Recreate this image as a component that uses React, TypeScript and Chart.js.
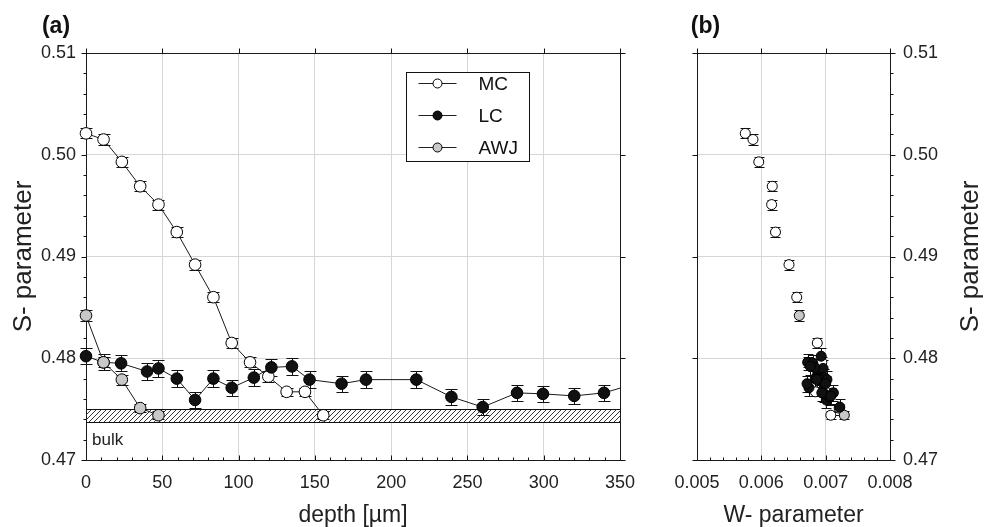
import React, { useEffect, useRef } from "react";
import { Chart, registerables } from "chart.js";

Chart.register(...registerables);

const FONT = "'Liberation Sans', Arial, Helvetica, sans-serif";

const SERIES_NAMES = ["MC", "LC", "AWJ"];

// ---- panel (a): S-parameter vs depth ----
const DEPTH_MC = [0, 11.5, 23.5, 35.5, 47.5, 59.5, 71.5, 83.5, 95.5, 107.5, 119.5, 131.5, 143.5, 155.5];
const S_MC = [0.5021, 0.5015, 0.4993, 0.4969, 0.4951, 0.4924, 0.4892, 0.486, 0.4815, 0.4796, 0.4782, 0.4767, 0.4767, 0.4744];
const S_ERR_MC = [0.0005, 0.0005, 0.0005, 0.0005, 0.0005, 0.0005, 0.0005, 0.0005, 0.0005, 0.0005, 0.0005, 0.0004, 0.0004, 0.0004];

const DEPTH_LC = [0, 11.5, 23, 40, 47.5, 59.5, 71.5, 83.5, 95.5, 110, 121.5, 135, 146.5, 167.5, 183.5, 216.5, 239.5, 260, 282.5, 299.5, 320, 339.5, 360];
const S_LC = [0.4802, 0.4796, 0.4795, 0.4787, 0.479, 0.478, 0.4759, 0.478, 0.4771, 0.4781, 0.4791, 0.4792, 0.4779, 0.4775, 0.4779, 0.4779, 0.4762, 0.4752, 0.4766, 0.4765, 0.4763, 0.4766, 0.4775];
const S_ERR_LC = [0.0008, 0.0008, 0.0008, 0.0008, 0.0008, 0.0008, 0.0008, 0.0008, 0.0008, 0.0008, 0.0008, 0.0008, 0.0008, 0.0008, 0.0008, 0.0008, 0.0008, 0.0008, 0.0008, 0.0008, 0.0008, 0.0008, 0.0008];

const DEPTH_AWJ = [0, 11.5, 23.5, 35.5, 47.5];
const S_AWJ = [0.4842, 0.4796, 0.4779, 0.4751, 0.4744];
const S_ERR_AWJ = [0.0005, 0.0005, 0.0005, 0.0004, 0.0004];

// ---- panel (b): S-parameter vs W-parameter ----
const W_MC = [0.00575, 0.00587, 0.00596, 0.00617, 0.00616, 0.00622, 0.00643, 0.00655, 0.00687, 0.00694, 0.00686, 0.00684, 0.007, 0.00708];
const W_LC = [0.00693, 0.00672, 0.0068, 0.00688, 0.00696, 0.00684, 0.00701, 0.0069, 0.00674, 0.00698, 0.00683, 0.00676, 0.00692, 0.00671, 0.00702, 0.00686, 0.00706, 0.00722, 0.00712, 0.00698, 0.00708, 0.00694, 0.007];
const W_AWJ = [0.00659, 0.00673, 0.00691, 0.00721, 0.00729];

// ---- axes ----
const DEPTH_TICKS = [0, 50, 100, 150, 200, 250, 300, 350];
const S_TICKS = [0.47, 0.48, 0.49, 0.5, 0.51];
const W_TICKS = [0.005, 0.006, 0.007, 0.008];
const BULK_BAND = [0.4737, 0.475];
const BULK_LABEL = "bulk";

const FILLS = ["#ffffff", "#111111", "#c8c8c8"];

const pts = (xs: number[], ys: number[]) => xs.map((x, i) => ({ x, y: ys[i] }));

type SideCfg = { axis: "x" | "y"; side: "left" | "right" | "top" | "bottom"; majors: number[]; minorStep?: number; out: boolean };

function drawTicks(chart: any, sides: SideCfg[]) {
  const { ctx, chartArea: a } = chart;
  ctx.save();
  ctx.strokeStyle = "#111";
  ctx.lineWidth = 1;
  for (const s of sides) {
    const scale = s.axis === "x" ? chart.scales.x : chart.scales.y;
    const draw = (v: number, len: number) => {
      const p = Math.round(scale.getPixelForValue(v)) + 0.5;
      const dir = s.out ? -1 : 1;
      ctx.beginPath();
      if (s.side === "left") {
        const b = Math.round(a.left) + 0.5;
        ctx.moveTo(b, p);
        ctx.lineTo(b + dir * len, p);
      } else if (s.side === "right") {
        const b = Math.round(a.right) + 0.5;
        ctx.moveTo(b, p);
        ctx.lineTo(b - dir * len, p);
      } else if (s.side === "top") {
        const b = Math.round(a.top) + 0.5;
        ctx.moveTo(p, b);
        ctx.lineTo(p, b - dir * len);
      } else {
        const b = Math.round(a.bottom) + 0.5;
        ctx.moveTo(p, b);
        ctx.lineTo(p, b + dir * len);
      }
      ctx.stroke();
    };
    s.majors.forEach((v) => draw(v, 5));
    if (s.minorStep) {
      const min = scale.min, max = scale.max;
      const n = Math.round((max - min) / s.minorStep);
      for (let i = 0; i <= n; i++) {
        const v = min + i * s.minorStep;
        if (s.majors.some((m) => Math.abs(m - v) < s.minorStep! / 10)) continue;
        draw(v, 3);
      }
    }
  }
  ctx.strokeStyle = "#1a1a1a";
  const l = Math.round(a.left) + 0.5, r = Math.round(a.right) + 0.5;
  const t = Math.round(a.top) + 0.5, b = Math.round(a.bottom) + 0.5;
  ctx.strokeRect(l, t, r - l, b - t);
  ctx.restore();
}

function drawErrors(chart: any, errs: number[][], xs: number[][], ys: number[][], cap: number) {
  const { ctx, chartArea: a } = chart;
  const sx = chart.scales.x, sy = chart.scales.y;
  ctx.save();
  ctx.strokeStyle = "#111";
  ctx.lineWidth = 1;
  for (let k = 0; k < errs.length; k++) {
    for (let i = 0; i < xs[k].length; i++) {
      if (xs[k][i] < sx.min || xs[k][i] > sx.max) continue;
      const x = Math.round(sx.getPixelForValue(xs[k][i])) + 0.5;
      if (x > a.right) continue;
      const y1 = Math.round(sy.getPixelForValue(ys[k][i] - errs[k][i])) + 0.5;
      const y2 = Math.round(sy.getPixelForValue(ys[k][i] + errs[k][i])) + 0.5;
      ctx.beginPath();
      ctx.moveTo(x, y1);
      ctx.lineTo(x, y2);
      ctx.moveTo(x - cap, y1);
      ctx.lineTo(x + cap, y1);
      ctx.moveTo(x - cap, y2);
      ctx.lineTo(x + cap, y2);
      ctx.stroke();
    }
  }
  ctx.restore();
}

const tickFont = { family: FONT, size: 18 };

export default function App() {
  const refA = useRef<HTMLCanvasElement>(null);
  const refB = useRef<HTMLCanvasElement>(null);

  useEffect(() => {
    const common = (r: number) => ({
      borderColor: "#1a1a1a",
      borderWidth: 1,
      pointRadius: r,
      pointHoverRadius: r,
      pointBorderColor: "#000",
      pointBorderWidth: 1,
    });

    const pluginA = {
      id: "panelA",
      beforeDatasetsDraw(chart: any) {
        const { ctx, chartArea: a } = chart;
        const sy = chart.scales.y, sx = chart.scales.x;
        const yt = Math.round(sy.getPixelForValue(BULK_BAND[1])) + 0.5;
        const yb = Math.round(sy.getPixelForValue(BULK_BAND[0])) + 0.5;
        const xl = Math.round(sx.getPixelForValue(DEPTH_TICKS[0])) + 0.5;
        const xr = Math.round(sx.getPixelForValue(DEPTH_TICKS[DEPTH_TICKS.length - 1])) + 0.5;
        ctx.save();
        ctx.fillStyle = "#ffffff";
        ctx.fillRect(xl, yt, xr - xl, yb - yt);
        ctx.beginPath();
        ctx.rect(xl, yt, xr - xl, yb - yt);
        ctx.clip();
        ctx.strokeStyle = "#222";
        ctx.lineWidth = 0.9;
        const h = yb - yt;
        ctx.beginPath();
        for (let x = xl - h; x < xr + h; x += 5) {
          ctx.moveTo(x, yb);
          ctx.lineTo(x + h, yt);
        }
        ctx.stroke();
        ctx.restore();
        ctx.save();
        ctx.strokeStyle = "#111";
        ctx.lineWidth = 1;
        ctx.strokeRect(xl, yt, xr - xl, yb - yt);
        ctx.fillStyle = "#222";
        ctx.font = `17px ${FONT}`;
        ctx.textAlign = "left";
        ctx.textBaseline = "alphabetic";
        ctx.fillText(BULK_LABEL, a.left + 6, yb + 22);
        ctx.restore();

        drawTicks(chart, [
          { axis: "y", side: "left", majors: S_TICKS, minorStep: 0.002, out: true },
          { axis: "y", side: "right", majors: S_TICKS, out: true },
          { axis: "x", side: "bottom", majors: DEPTH_TICKS, minorStep: 10, out: true },
          { axis: "x", side: "top", majors: DEPTH_TICKS, out: false },
        ]);
        drawErrors(chart, [S_ERR_MC, S_ERR_LC, S_ERR_AWJ], [DEPTH_MC, DEPTH_LC, DEPTH_AWJ], [S_MC, S_LC, S_AWJ], 6);
      },
      afterDraw(chart: any) {
        const { ctx, chartArea: a } = chart;
        ctx.save();
        ctx.fillStyle = "#111";
        ctx.font = `bold 23px ${FONT}`;
        ctx.textAlign = "center";
        ctx.textBaseline = "middle";
        ctx.fillText("(a)", 56, 27);
        const bx = Math.round(a.left + 320) + 0.5, by = Math.round(a.top + 19) + 0.5;
        const bw = 123, bh = 89;
        ctx.fillStyle = "#fff";
        ctx.fillRect(bx, by, bw, bh);
        ctx.strokeStyle = "#111";
        ctx.lineWidth = 1;
        ctx.strokeRect(bx, by, bw, bh);
        SERIES_NAMES.forEach((name, i) => {
          const y = by + 11 + i * 32;
          ctx.strokeStyle = "#222";
          ctx.beginPath();
          ctx.moveTo(bx + 12, y);
          ctx.lineTo(bx + 50, y);
          ctx.stroke();
          ctx.beginPath();
          ctx.arc(bx + 31, y, 4.5, 0, Math.PI * 2);
          ctx.fillStyle = FILLS[i];
          ctx.fill();
          ctx.strokeStyle = "#000";
          ctx.stroke();
          ctx.fillStyle = "#111";
          ctx.font = `19px ${FONT}`;
          ctx.textAlign = "left";
          ctx.textBaseline = "middle";
          ctx.fillText(name, bx + 72, y + 1);
        });
        ctx.restore();
      },
    };

    const clipA = { left: 12, top: 12, right: 0, bottom: 12 };
    const chartA = new Chart(refA.current!, {
      type: "scatter",
      data: {
        datasets: [
          { label: SERIES_NAMES[0], data: pts(DEPTH_MC, S_MC), showLine: true, ...common(5.8), pointBackgroundColor: FILLS[0], order: 3, clip: clipA } as any,
          { label: SERIES_NAMES[1], data: pts(DEPTH_LC, S_LC), showLine: true, ...common(5.8), pointBackgroundColor: FILLS[1], order: 2, clip: clipA } as any,
          { label: SERIES_NAMES[2], data: pts(DEPTH_AWJ, S_AWJ), showLine: true, ...common(5.8), pointBackgroundColor: FILLS[2], order: 1, clip: clipA } as any,
        ],
      },
      options: {
        animation: false,
        responsive: false,
        events: [],
        layout: { padding: { top: 53, right: 40, left: 0, bottom: 0 } },
        plugins: { legend: { display: false }, tooltip: { enabled: false } },
        scales: {
          x: {
            type: "linear",
            position: "bottom",
            min: 0,
            max: 350,
            afterBuildTicks: (s: any) => { s.ticks = DEPTH_TICKS.map((value) => ({ value })); },
            afterFit: (s: any) => { s.height = 67; },
            grid: { color: "#d6d6d6", lineWidth: 1, drawTicks: false },
            border: { display: false },
            ticks: { font: tickFont, color: "#222", padding: 12, autoSkip: false, maxRotation: 0, callback: (v: any) => String(v) },
            title: { display: true, text: "depth [µm]", color: "#222", font: { family: FONT, size: 23, lineHeight: 1 }, padding: { top: 0, bottom: 0 } },
          },
          y: {
            type: "linear",
            position: "left",
            min: 0.47,
            max: 0.51,
            afterBuildTicks: (s: any) => { s.ticks = S_TICKS.map((value) => ({ value })); },
            afterFit: (s: any) => { s.width = 86; },
            grid: { color: "#d6d6d6", lineWidth: 1, drawTicks: false },
            border: { display: false },
            ticks: { font: tickFont, color: "#222", padding: 10, autoSkip: false, callback: (v: any) => Number(v).toFixed(2) },
            title: { display: true, text: "S- parameter", color: "#222", font: { family: FONT, size: 26, lineHeight: 1 }, padding: { top: 11, bottom: 0 } },
          },
        },
      } as any,
      plugins: [pluginA],
    });

    const pluginB = {
      id: "panelB",
      beforeDatasetsDraw(chart: any) {
        drawTicks(chart, [
          { axis: "y", side: "right", majors: S_TICKS, minorStep: 0.002, out: true },
          { axis: "y", side: "left", majors: S_TICKS, out: true },
          { axis: "x", side: "bottom", majors: W_TICKS, minorStep: 0.0002, out: true },
          { axis: "x", side: "top", majors: W_TICKS, out: false },
        ]);
        drawErrors(chart, [S_ERR_MC, S_ERR_LC, S_ERR_AWJ], [W_MC, W_LC, W_AWJ], [S_MC, S_LC, S_AWJ], 5);
      },
      afterDraw(chart: any) {
        const { ctx, chartArea: a } = chart;
        ctx.save();
        ctx.fillStyle = "#111";
        ctx.font = `bold 23px ${FONT}`;
        ctx.textAlign = "center";
        ctx.textBaseline = "middle";
        ctx.fillText("(b)", 45.5, 27);
        ctx.fillStyle = "#222";
        ctx.font = `26px ${FONT}`;
        ctx.translate(311, (a.top + a.bottom) / 2);
        ctx.rotate(-Math.PI / 2);
        ctx.fillText("S- parameter", 0, 0);
        ctx.restore();
      },
    };

    const chartB = new Chart(refB.current!, {
      type: "scatter",
      data: {
        datasets: [
          { label: SERIES_NAMES[0], data: pts(W_MC, S_MC), ...common(5), pointBackgroundColor: FILLS[0], order: 3 } as any,
          { label: SERIES_NAMES[1], data: pts(W_LC, S_LC), ...common(5), pointBackgroundColor: FILLS[1], order: 1 } as any,
          { label: SERIES_NAMES[2], data: pts(W_AWJ, S_AWJ), ...common(5), pointBackgroundColor: FILLS[2], order: 2 } as any,
        ],
      },
      options: {
        animation: false,
        responsive: false,
        events: [],
        layout: { padding: { top: 53, right: 0, left: 37, bottom: 0 } },
        plugins: { legend: { display: false }, tooltip: { enabled: false } },
        scales: {
          x: {
            type: "linear",
            position: "bottom",
            min: 0.005,
            max: 0.008,
            afterBuildTicks: (s: any) => { s.ticks = W_TICKS.map((value) => ({ value })); },
            afterFit: (s: any) => { s.height = 67; },
            grid: { color: "#d6d6d6", lineWidth: 1, drawTicks: false },
            border: { display: false },
            ticks: { font: tickFont, color: "#222", padding: 12, autoSkip: false, maxRotation: 0, callback: (v: any) => Number(v).toFixed(3) },
            title: { display: true, text: "W- parameter", color: "#222", font: { family: FONT, size: 23, lineHeight: 1 }, padding: { top: 0, bottom: 0 } },
          },
          y: {
            type: "linear",
            position: "right",
            min: 0.47,
            max: 0.51,
            afterBuildTicks: (s: any) => { s.ticks = S_TICKS.map((value) => ({ value })); },
            afterFit: (s: any) => { s.width = 103; },
            grid: { color: "#d6d6d6", lineWidth: 1, drawTicks: false },
            border: { display: false },
            ticks: { font: tickFont, color: "#222", padding: 13, autoSkip: false, callback: (v: any) => Number(v).toFixed(2) },
          },
        },
      } as any,
      plugins: [pluginB],
    });

    return () => {
      chartA.destroy();
      chartB.destroy();
    };
  }, []);

  return (
    <div style={{ position: "fixed", left: 0, top: 0, width: 993, height: 527, background: "#fff" }}>
      <canvas ref={refA} width={660} height={527} style={{ position: "absolute", left: 0, top: 0, width: 660, height: 527 }} />
      <canvas ref={refB} width={333} height={527} style={{ position: "absolute", left: 660, top: 0, width: 333, height: 527 }} />
    </div>
  );
}
